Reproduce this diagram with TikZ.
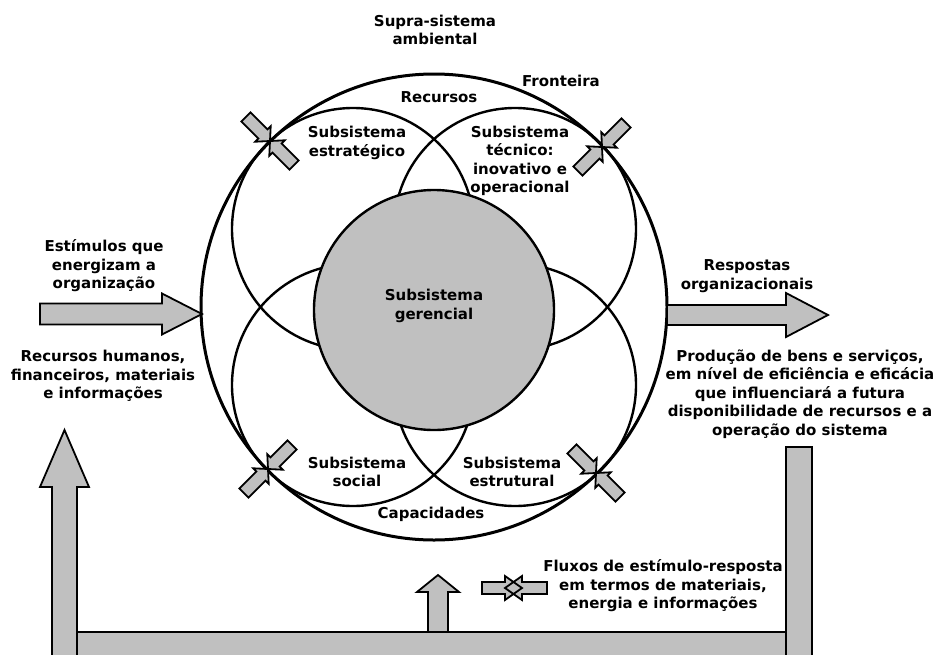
\documentclass[tikz,border=0pt]{standalone}
\usepackage{fontspec}
\setmainfont{DejaVu Sans}
\definecolor{panel}{HTML}{C0C0C0}
% block arrow: [options]{tip}{angle}{length}{shaft width}{head width}{head length}
\newcommand{\blockarrow}[7][]{%
  \filldraw[arr,#1,shift={#2},rotate=#3]
    (0,0) -- (-#7,#6/2) -- (-#7,#5/2) -- (-#4,#5/2) -- (-#4,-#5/2)
    -- (-#7,-#5/2) -- (-#7,-#6/2) -- cycle;}
\begin{document}
\begin{tikzpicture}[x=1pt,y=-1pt,
  lbl/.style={font=\fontsize{15}{18.5}\selectfont\bfseries, align=center, inner sep=0pt},
  boundary/.style={draw=black, line width=3pt},
  ring/.style={draw=black, line width=2.4pt},
  arr/.style={draw=black, fill=panel, line width=1.8pt, line join=miter},
]
\useasboundingbox (0,0) rectangle (938,654);
\clip (0,0) rectangle (938,654);

% subsystem circles
\draw[ring] (353,229) circle[radius=121pt];
\draw[ring] (515,229) circle[radius=121pt];
\draw[ring] (353,385) circle[radius=121pt];
\draw[ring] (515,385) circle[radius=121pt];
% boundary of the organisation
\draw[boundary] (434,307) circle[radius=233pt];
% managerial core
\filldraw[ring, fill=panel] (434,310) circle[radius=120pt];

% exchange arrows at the four contact points
\blockarrow{(270,141)}{-45}{34}{13}{22}{10}
\blockarrow{(270,141)}{135}{34}{13}{22}{10}
\blockarrow{(602,147)}{-135}{34}{13}{22}{10}
\blockarrow{(602,147)}{45}{34}{13}{22}{10}
\blockarrow{(268,469)}{45}{34}{13}{22}{10}
\blockarrow{(268,469)}{-135}{34}{13}{22}{10}
\blockarrow{(596,473)}{135}{34}{13}{22}{10}
\blockarrow{(596,473)}{-45}{34}{13}{22}{10}

% inputs and outputs
\blockarrow{(202,314)}{0}{162}{21}{41}{40}
\blockarrow{(828,315)}{0}{161}{20}{44}{42}

% feedback loop
\filldraw[arr] (52,632) rectangle (812,680);
\filldraw[arr] (786,447) rectangle (812,680);
\blockarrow{(64.5,430)}{90}{250}{25}{49}{57}
\blockarrow{(438,575)}{90}{57}{20}{42}{17}

% legend symbol
\blockarrow[draw=none]{(522,588)}{0}{40}{12}{24}{17}
\blockarrow[draw=none]{(505,588)}{180}{42}{12}{24}{17}
\blockarrow[fill=none]{(522,588)}{0}{40}{12}{24}{17}
\blockarrow[fill=none]{(505,588)}{180}{42}{12}{24}{17}

% labels
\node[lbl] (supra) at (435,30) {Supra-sistema\\ambiental};
\node[lbl] (fronteira) at (561,81) {Fronteira};
\node[lbl] (recursos) at (439,97) {Recursos};
\node[lbl] (estrat) at (357,143) {Subsistema\\estratégico};
\node[lbl] (tecnico) at (520,161) {Subsistema\\técnico:\\inovativo e\\operacional};
\node[lbl] (gerencial) at (434,306) {Subsistema\\gerencial};
\node[lbl] (social) at (357,472) {Subsistema\\social};
\node[lbl] (estrut) at (512,472) {Subsistema\\estrutural};
\node[lbl] (capac) at (431,514) {Capacidades};
\node[lbl] (estimulos) at (104,266) {Estímulos que\\energizam a\\organização};
\node[lbl] (insumos) at (103,376) {Recursos humanos,\\financeiros, materiais\\e informações};
\node[lbl] (respostas) at (747,276) {Respostas\\organizacionais};
\node[lbl] (producao) at (800,394) {Produção de bens e serviços,\\em nível de eficiência e eficácia\\que influenciará a futura\\disponibilidade de recursos e a\\operação do sistema};
\node[lbl] (fluxos) at (663,586) {Fluxos de estímulo-resposta\\em termos de materiais,\\energia e informações};
\end{tikzpicture}
\end{document}
